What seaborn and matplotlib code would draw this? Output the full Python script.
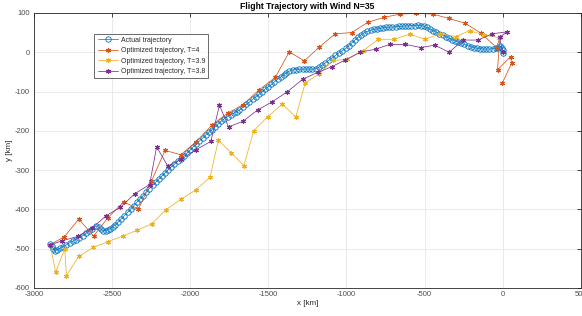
import numpy as np
import pandas as pd
import matplotlib
matplotlib.use("Agg")
import matplotlib.pyplot as plt
import seaborn as sns

# ---------------- data ----------------
actual_x = [-2895, -2885, -2875, -2866, -2850, -2830, -2810, -2791, -2770, -2750,
            -2730, -2710, -2685, -2665, -2645, -2625, -2600, -2585, -2570, -2557,
            -2540, -2525, -2510, -2495, -2483, -2460, -2440, -2420, -2400, -2380,
            -2360, -2340, -2320, -2300, -2280, -2260, -2240, -2220, -2200, -2180,
            -2160, -2140, -2120, -2100, -2080, -2060, -2040, -2020, -2000, -1980,
            -1961, -1940, -1920, -1900, -1880, -1860, -1840, -1820, -1800, -1780,
            -1760, -1740, -1720, -1700, -1684, -1660, -1640, -1620, -1600, -1578,
            -1560, -1540, -1520, -1500, -1480, -1460, -1440, -1420, -1400, -1386,
            -1365, -1344, -1320, -1300, -1280, -1260, -1240, -1220, -1195, -1175,
            -1155, -1135, -1110, -1090, -1070, -1050, -1030, -1003, -985, -965,
            -945, -925, -905, -885, -865, -845, -825, -805, -785, -765,
            -745, -725, -705, -684, -664, -644, -624, -604, -584, -564,
            -544, -525, -505, -485, -465, -445, -425, -405, -385, -365,
            -345, -325, -305, -285, -265, -245, -225, -205, -185, -165,
            -145, -125, -105, -85, -65, -45, -30, -15, -5, 0, 2]
actual_y = [-488, -494, -500, -505, -503, -499, -495, -490, -485, -481,
            -477, -472, -467, -461, -455, -449, -442, -445, -450, -455,
            -454, -452, -449, -444, -440, -432, -424, -416, -408, -399,
            -391, -382, -373, -365, -356, -347, -339, -331, -323, -315,
            -307, -299, -292, -285, -278, -271, -264, -257, -249, -241,
            -233, -226, -219, -211, -204, -197, -190, -182, -175, -169,
            -164, -159, -155, -151, -147, -140, -133, -127, -120, -113,
            -107, -101, -94, -88, -82, -75, -69, -63, -57, -53,
            -48, -45, -44, -43, -43, -43, -43, -43, -42, -38,
            -33, -27, -20, -14, -8, -2, 3, 10, 17, 24,
            31, 38, 45, 50, 53, 56, 58, 59, 61, 62,
            63, 64, 64, 65, 66, 66, 67, 67, 68, 68,
            69, 68, 66, 63, 59, 55, 51, 47, 44, 40,
            36, 32, 29, 26, 23, 20, 17, 14, 12, 10,
            9, 8, 8, 8, 9, 10, 12, 15, 12, 5, -3]

t4_x = [-2895, -2805, -2712, -2617, -2527, -2425, -2330, -2248, -2160, -2060,
        -1961, -1859, -1759, -1663, -1559, -1455, -1365, -1269, -1174, -1071,
        -967, -863, -758, -656, -552, -447, -343, -241, -141, -39,
        -18, -33, 51, 57, -3]
t4_y = [-490, -470, -425, -468, -422, -381, -399, -329, -250, -261,
        -228, -185, -155, -134, -96, -64, 1, -22, 13, 47,
        50, 76, 89, 97, 99, 97, 86, 74, 49, 12,
        38, -45, -11, -28, -79]

t39_x = [-2895, -2860, -2802, -2791, -2713, -2619, -2525, -2430, -2338, -2245,
         -2155, -2057, -1965, -1872, -1819, -1736, -1656, -1593, -1503, -1410,
         -1324, -1263, -1174, -1087, -993, -893, -795, -695, -594, -499,
         -399, -301, -211, -120, -24]
t39_y = [-490, -560, -501, -569, -520, -497, -482, -468, -453, -437,
         -401, -374, -351, -318, -224, -256, -289, -200, -164, -132,
         -165, -78, -55, -21, -18, 4, 33, 33, 46, 33,
         47, 40, 55, 44, 37]

t38_x = [-2895, -2817, -2719, -2625, -2536, -2446, -2353, -2259, -2214, -2142,
         -2055, -1961, -1867, -1812, -1754, -1662, -1568, -1474, -1379, -1280,
         -1182, -1095, -1008, -912, -812, -720, -622, -524, -435, -343,
         -252, -156, -67, 29, -20, 0]
t38_y = [-490, -480, -469, -447, -416, -395, -360, -337, -241, -290,
         -272, -248, -227, -135, -190, -176, -147, -126, -101, -69,
         -51, -37, -20, 0, 8, 20, 20, 12, 18, 0,
         31, 31, 47, 52, 38, 1]

labels = ["Actual trajectory", "Optimized trajectory, T=4",
          "Optimized trajectory, T=3.9", "Optimized trajectory, T=3.8"]
x_ticks = [-3000, -2500, -2000, -1500, -1000, -500, 0, 500]
y_ticks = [-600, -500, -400, -300, -200, -100, 0, 100]
title = "Flight Trajectory with Wind N=35"

# ---------------- style ----------------
sns.set_theme(style="white")
plt.rcParams['font.family'] = ['Liberation Sans', 'DejaVu Sans']

colors = ["#0072BD", "#D95319", "#EDB120", "#7E2F8E"]

fig = plt.figure(figsize=(5.82, 3.16), dpi=100)
ax = fig.add_axes([0.058, 0.089, 0.940, 0.870])

df_a = pd.DataFrame({"x": actual_x, "y": actual_y})
sns.lineplot(data=df_a, x="x", y="y", sort=False, estimator=None, ax=ax,
             color=colors[0], lw=0.5, marker="o", markersize=3.9,
             markerfacecolor="none", markeredgecolor=colors[0],
             markeredgewidth=0.6, label=labels[0])

ast = (6, 2, 0)
for xs, ys, c, lab in [(t4_x, t4_y, colors[1], labels[1]),
                       (t39_x, t39_y, colors[2], labels[2]),
                       (t38_x, t38_y, colors[3], labels[3])]:
    d = pd.DataFrame({"x": xs, "y": ys})
    sns.lineplot(data=d, x="x", y="y", sort=False, estimator=None, ax=ax,
                 color=c, lw=0.55, marker=ast, markersize=3.6,
                 markeredgecolor=c, markeredgewidth=0.8, label=lab)

ax.set_xlim(-3000, 500)
ax.set_ylim(-600, 100)
ax.set_xticks(x_ticks)
ax.set_yticks(y_ticks)
ax.set_xticklabels([str(v) for v in x_ticks])
ax.set_yticklabels([str(v) for v in y_ticks])
ax.grid(True, color="#e6e6e6", lw=0.6)
ax.set_axisbelow(True)
for s in ax.spines.values():
    s.set_color("#262626")
    s.set_linewidth(0.6)
ax.tick_params(axis="both", which="both", direction="in", length=3, width=0.6,
               colors="#262626", labelsize=5.5, top=True, right=True,
               labelcolor="#4d4d4d")
ax.tick_params(axis="x", pad=2.5)
ax.tick_params(axis="y", pad=3)
ax.set_xlabel("x [km]", fontsize=5.8, color="#262626", labelpad=1)
ax.set_ylabel("y [km]", fontsize=5.8, color="#262626", labelpad=1)
ax.set_title(title, fontsize=6.2, fontweight="bold", color="#000000", pad=3)

leg = ax.legend(loc="upper left", bbox_to_anchor=(0.111, 0.925), fontsize=5,
                frameon=True, fancybox=False, edgecolor="#262626",
                handlelength=2.9, borderpad=0.45, labelspacing=0.5,
                handletextpad=0.4, borderaxespad=0)
leg.get_frame().set_linewidth(0.6)

fig.savefig("out.png", dpi=100)
